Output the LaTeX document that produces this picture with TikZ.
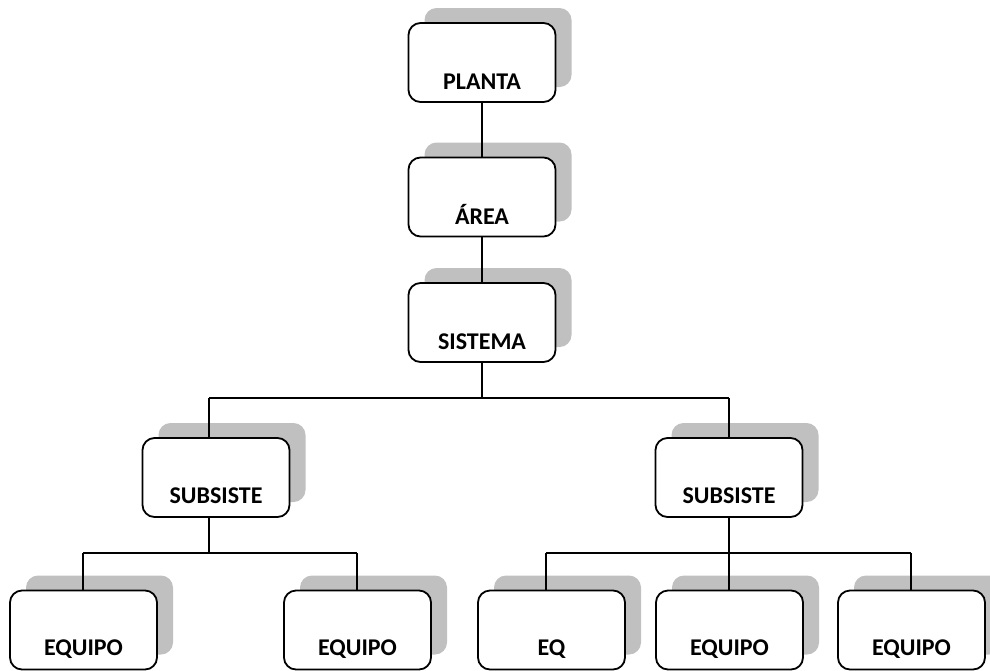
\documentclass[tikz,border=0pt]{standalone}
\usepackage{fontspec}
\setmainfont{Carlito}
\usetikzlibrary{shadows}
\definecolor{shadowgray}{RGB}{192,192,192}
\begin{document}
\begin{tikzpicture}[x=1pt,y=-1pt,
  unit/.style={draw=black, line width=1.8pt, fill=white, rounded corners=12pt,
    minimum width=147pt, minimum height=79pt, inner sep=0pt,
    general shadow={fill=shadowgray, draw=none, shadow xshift=16pt, shadow yshift=15pt}},
  caption/.style={anchor=base, font=\fontsize{24}{27}\selectfont\bfseries, inner sep=0pt},
  link/.style={line width=1.8pt}]
\useasboundingbox (0,0) rectangle (990,670);

% hierarchy boxes
\node[unit] (planta)  at (482,62.5) {};
\node[unit] (area)    at (482,197)  {};
\node[unit] (sistema) at (482,322.5) {};
\node[unit] (subL)    at (216,477.5) {};
\node[unit] (subR)    at (729,477.5) {};
\node[unit] (eqA)     at (83.5,630) {};
\node[unit] (eqB)     at (357.5,630) {};
\node[unit] (eqC)     at (551.5,630) {};
\node[unit] (eqD)     at (729.5,630) {};
\node[unit] (eqE)     at (911.5,630) {};

% labels sit near the bottom of each box
\node[caption] at ([yshift=13pt]planta.south)  {PLANTA};
\node[caption] at ([yshift=13pt]area.south)    {ÁREA};
\node[caption] at ([yshift=13pt]sistema.south) {SISTEMA};
\node[caption] at ([yshift=14pt]subL.south)    {SUBSISTE};
\node[caption] at ([yshift=14pt]subR.south)    {SUBSISTE};
\node[caption] at ([yshift=15pt]eqA.south)     {EQUIPO};
\node[caption] at ([yshift=15pt]eqB.south)     {EQUIPO};
\node[caption] at ([yshift=15pt]eqC.south)     {EQ};
\node[caption] at ([yshift=15pt]eqD.south)     {EQUIPO};
\node[caption] at ([yshift=15pt]eqE.south)     {EQUIPO};

% junction points of the buses
\coordinate (topBus)  at (482,398);
\coordinate (tapL)    at (209,398);
\coordinate (tapR)    at (729,398);
\coordinate (busL)    at (209,553);
\coordinate (busLa)   at (83,553);
\coordinate (busLb)   at (357,553);
\coordinate (busR)    at (729,553);
\coordinate (busRa)   at (546,553);
\coordinate (busRb)   at (911,553);

% connectors
\draw[link] (planta.south) -- (area.north);
\draw[link] (area.south) -- (sistema.north);
\draw[link] (sistema.south) -- (topBus);
\draw[link] (tapL) -- (tapR);
\draw[link] (tapL) -- (tapL |- subL.north);
\draw[link] (tapR) -- (subR.north);

\draw[link] (subL.south -| busL) -- (busL);
\draw[link] (busLa) -- (busLb);
\draw[link] (busLa) -- (eqA.north -| busLa);
\draw[link] (busLb) -- (eqB.north -| busLb);

\draw[link] (subR.south) -- (busR);
\draw[link] (busRa) -- (busRb);
\draw[link] (busRa) -- (eqC.north -| busRa);
\draw[link] (busR) -- (eqD.north -| busR);
\draw[link] (busRb) -- (eqE.north -| busRb);
\end{tikzpicture}
\end{document}
